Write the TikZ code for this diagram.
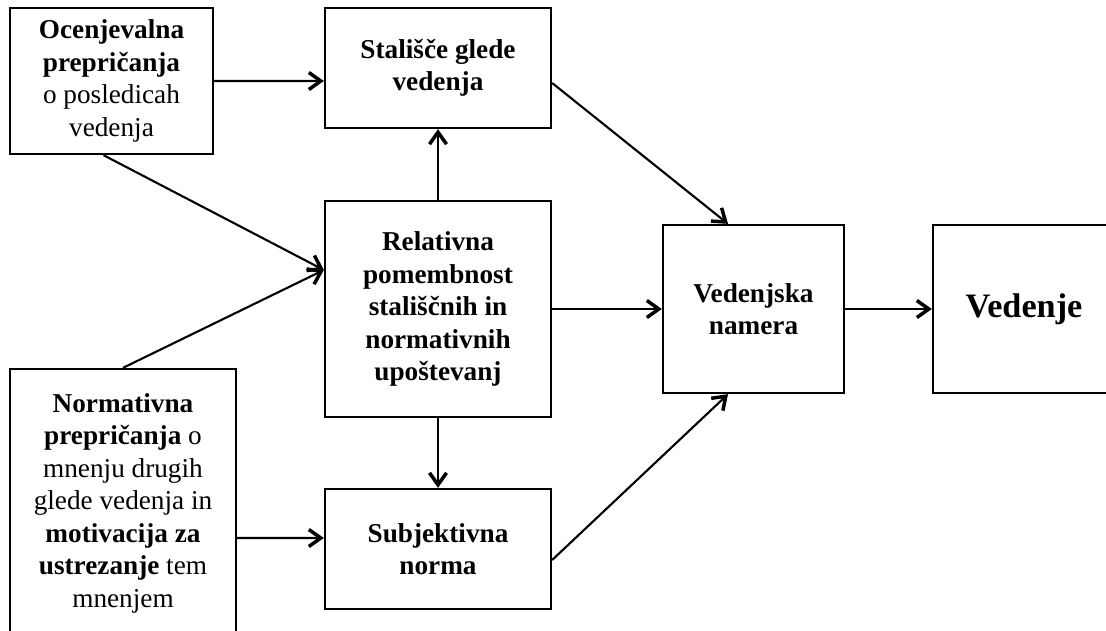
\documentclass[tikz,border=0pt]{standalone}
\usepackage{fontspec}
\setmainfont{Liberation Serif}
\usetikzlibrary{arrows.meta}
\begin{document}
\begin{tikzpicture}[
		font=\fontsize{15.5}{18.5}\selectfont,
		box/.style={rectangle, draw, line width=1.3pt, minimum width=4.52cm, minimum height=2.4cm, align=center, inner sep=0pt},
		arr/.style={-{Straight Barb[length=2.4mm,width=3.4mm,line width=2pt]}, line width=1.2pt}
	]
		\path[use as bounding box, clip] (0,0) rectangle (22.12,12.6);
		\node[box, minimum width=4.06cm, minimum height=2.92cm] (ocen) at (2.23,10.98) {\textbf{Ocenjevalna}\\\textbf{prepričanja}\\o posledicah\\vedenja};
		\node[box] (stal) at (8.76,11.24) {\textbf{Stališče glede}\\\textbf{vedenja}};
		\node[box, minimum height=4.32cm] (rel) at (8.76,6.42) {\textbf{Relativna}\\\textbf{pomembnost}\\\textbf{stališčnih in}\\\textbf{normativnih}\\\textbf{upoštevanj}};
		\node[box] (subj) at (8.76,1.62) {\textbf{Subjektivna}\\\textbf{norma}};
		\node[box, minimum height=5.36cm] (norm) at (2.46,2.54) {\textbf{Normativna}\\\textbf{prepričanja} o\\mnenju drugih\\glede vedenja in\\\textbf{motivacija za}\\\textbf{ustrezanje} tem\\mnenjem};
		\node[box, minimum width=3.62cm, minimum height=3.36cm] (nam) at (15.07,6.42) {\textbf{Vedenjska}\\\textbf{namera}};
		\node[box, minimum width=3.64cm, minimum height=3.36cm, font=\fontsize{19.5}{22}\selectfont] (ved) at (20.48,6.42) {\textbf{Vedenje}};
		\draw[arr] (ocen.east) -- ([yshift=-0.26cm]stal.west);
		\draw[arr] ([xshift=-0.16cm]ocen.south) -- ([yshift=0.78cm]rel.west);
		\draw[arr] (norm.north) -- ([yshift=0.78cm]rel.west);
		\draw[arr] (rel) -- (stal);
		\draw[arr] (rel) -- (subj);
		\draw[arr] ([yshift=-0.7cm]norm.east) -- ([yshift=0.22cm]subj.west);
		\draw[arr] (rel) -- (nam);
		\draw[arr] ([yshift=-0.3cm]stal.east) -- ([xshift=-0.51cm]nam.north);
		\draw[arr] ([yshift=-0.22cm]subj.east) -- ([xshift=-0.51cm]nam.south);
		\draw[arr] (nam) -- (ved);
	\end{tikzpicture}
\end{document}
